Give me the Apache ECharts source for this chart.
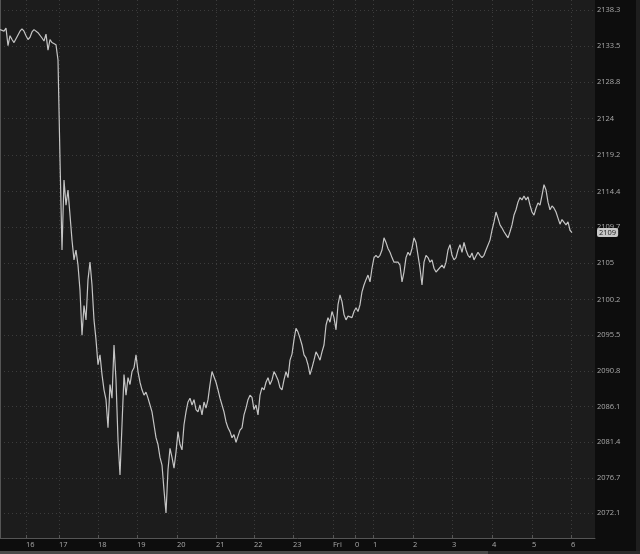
<!DOCTYPE html>
<html>
<head>
<meta charset="utf-8">
<script src="https://cdn.jsdelivr.net/npm/echarts@6/dist/echarts.min.js"></script>
<style>
html,body{margin:0;padding:0;background:#0d0d0d;}
#c{width:640px;height:554px;}
</style>
</head>
<body>
<div id="c"></div>
<script>
// tick labels on the price axis
const yTickValues = [2072.1, 2076.7, 2081.4, 2086.1, 2090.8, 2095.5, 2100.2, 2105, 2109.7, 2114.4, 2119.2, 2124, 2128.8, 2133.5, 2138.3];
// session ticks (in sample-index units) and their labels
const xTickPos = [13, 29.5, 49, 68.5, 88.5, 108, 127, 146.5, 166.5, 177.5, 186.5, 206.5, 226, 246, 266, 285.5];
const xTickLabels = ['16','17','18','19','20','21','22','23','Fri','0','1','2','3','4','5','6'];
// price samples
const prices = [
2135.7,2135.8,2135.5,2135.9,2133.6,2134.9,2134.4,2134.0,2134.2,2135.0,
2135.5,2135.8,2135.5,2134.9,2134.4,2134.7,2135.4,2135.7,2135.5,2135.3,
2135.1,2134.6,2134.2,2135.1,2133.0,2134.4,2134.0,2134.2,2133.7,2131.7,
2118.6,2106.7,2115.9,2112.6,2114.6,2111.3,2108.0,2105.4,2106.7,2104.7,
2101.4,2095.5,2099.4,2097.5,2102.8,2105.1,2102.1,2097.5,2094.9,2091.6,
2092.9,2090.3,2088.3,2087.0,2083.3,2089.0,2087.2,2094.2,2089.6,2081.7,
2077.1,2083.7,2090.3,2087.6,2089.9,2089.0,2090.7,2091.2,2092.9,2090.7,
2089.3,2088.3,2087.6,2088.0,2087.2,2086.3,2085.4,2083.7,2082.0,2081.1,
2079.4,2078.4,2075.1,2072.1,2077.8,2080.6,2079.4,2078.0,2080.1,2082.8,
2081.1,2080.4,2083.7,2085.4,2086.7,2087.2,2086.3,2087.0,2085.7,2085.4,
2086.3,2085.0,2086.7,2085.9,2087.0,2089.0,2090.7,2090.9,2089.3,2088.3,
2087.2,2086.3,2085.4,2084.1,2083.3,2082.8,2082.0,2082.4,2081.4,2082.2,
2083.0,2083.3,2085.0,2085.9,2087.0,2087.6,2087.3,2085.7,2086.3,2085.0,
2087.6,2088.6,2088.3,2089.3,2089.9,2089.0,2089.6,2090.7,2090.2,2089.6,
2088.6,2088.3,2089.6,2090.7,2089.9,2092.2,2093.0,2094.9,2096.4,2095.9,
2095.1,2094.2,2092.9,2092.5,2091.6,2090.3,2091.2,2092.2,2093.3,2092.8,
2092.2,2093.3,2094.2,2096.8,2097.8,2097.2,2098.6,2097.8,2096.2,2099.5,
2100.8,2099.9,2098.2,2097.5,2098.0,2098.2,2097.8,2098.6,2099.1,2098.6,
2099.5,2101.2,2102.1,2102.8,2103.4,2102.5,2104.3,2105.7,2106.0,2105.7,
2106.0,2106.7,2108.3,2107.7,2106.9,2106.4,2105.7,2105.1,2104.9,2105.1,
2104.7,2102.5,2103.8,2105.7,2106.4,2106.0,2106.9,2108.3,2107.7,2106.0,
2104.3,2102.1,2105.1,2106.0,2105.7,2105.1,2105.4,2104.3,2103.8,2104.1,
2104.3,2104.7,2104.3,2105.1,2106.7,2107.4,2106.0,2105.4,2105.7,2106.7,
2107.4,2106.4,2107.7,2106.7,2106.0,2105.7,2106.3,2105.4,2105.9,2106.4,
2106.0,2105.7,2106.0,2106.7,2106.9,2108.0,2109.3,2110.4,2111.7,2110.9,
2110.0,2109.6,2109.1,2108.7,2108.3,2109.1,2110.0,2111.3,2112.0,2113.0,
2113.6,2113.3,2113.8,2113.3,2113.7,2112.6,2111.7,2111.3,2112.2,2112.9,
2112.6,2113.9,2115.3,2114.6,2113.0,2112.0,2112.5,2112.2,2111.7,2110.9,
2110.1,2110.7,2110.9,2110.0,2110.4,2109.3,2109.0
];

const chart = echarts.init(document.getElementById('c'), null, {renderer: 'canvas'});
const labelFont = {color: '#aaaaaa', fontSize: 7.5, fontFamily: 'Open Sans'};
const gridLine = {show: true, lineStyle: {color: '#3c3c3c', width: 1, type: [1, 3]}};

chart.setOption({
  animation: false,
  backgroundColor: '#0d0d0d',
  graphic: [
    {type: 'rect', shape: {x: 636, y: 0, width: 4, height: 554}, style: {fill: '#1e1e1e'}, z: -1},
    {type: 'rect', shape: {x: 0, y: 551, width: 640, height: 3}, style: {fill: '#2a2a2a'}, z: -1},
    {type: 'rect', shape: {x: 0, y: 551, width: 488, height: 3}, style: {fill: '#4a4a4a'}, z: 0}
  ],
  grid: {left: 0, top: 0, right: 45, bottom: 16, show: true, backgroundColor: '#1c1c1c', borderWidth: 0},
  xAxis: {
    type: 'value', min: 0, max: 297.5,
    axisLine: {show: true, onZero: false, lineStyle: {color: '#555555'}},
    axisTick: {show: true, inside: true, length: 3, customValues: xTickPos, lineStyle: {color: '#555555'}},
    axisLabel: Object.assign({
      customValues: xTickPos, margin: 3, align: 'left',
      formatter: function (v) {
        for (let i = 0; i < xTickPos.length; i++) if (Math.abs(xTickPos[i] - v) < 0.01) return xTickLabels[i];
        return '';
      }
    }, labelFont),
    splitLine: gridLine
  },
  yAxis: {
    type: 'value', position: 'right', min: 2068.8, max: 2139.6,
    axisLine: {show: true, lineStyle: {color: '#555555'}},
    axisTick: {show: true, inside: true, length: 3, customValues: yTickValues, lineStyle: {color: '#555555'}},
    axisLabel: Object.assign({
      customValues: yTickValues, margin: 2,
      formatter: function (v) { return String(v); }
    }, labelFont),
    splitLine: gridLine
  },
  series: [{
    type: 'line',
    data: prices.map((v, i) => [i, v]),
    showSymbol: false,
    lineStyle: {color: '#c4c4c4', width: 1.2},
    markLine: {
      silent: true,
      symbol: 'none',
      lineStyle: {width: 0, color: 'rgba(0,0,0,0)', type: 'solid'},
      data: [{yAxis: prices[prices.length - 1]}],
      label: {
        show: true, position: 'end', distance: 2,
        formatter: function (p) { return String(Math.floor(p.value)); },
        backgroundColor: '#c8c8c8', color: '#222222', borderRadius: 2,
        padding: [1, 2, 0, 2], fontSize: 7.5, fontFamily: 'Open Sans'
      }
    }
  }]
});
</script>
</body>
</html>
